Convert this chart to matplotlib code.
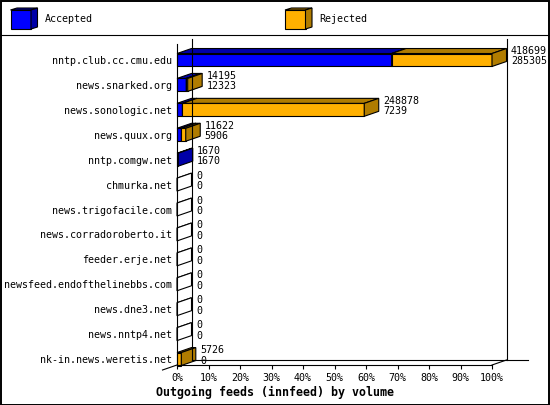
import numpy as np
import matplotlib.pyplot as plt
from matplotlib.patches import Polygon, Rectangle

hosts = ["nntp.club.cc.cmu.edu", "news.snarked.org", "news.sonologic.net",
         "news.quux.org", "nntp.comgw.net", "chmurka.net",
         "news.trigofacile.com", "news.corradoroberto.it", "feeder.erje.net",
         "newsfeed.endofthelinebbs.com", "news.dne3.net", "news.nntp4.net",
         "nk-in.news.weretis.net"]
# offered volume (top label) and accepted volume (bottom label)
offered = [418699, 14195, 248878, 11622, 1670, 0, 0, 0, 0, 0, 0, 0, 5726]
accepted = [285305, 12323, 7239, 5906, 1670, 0, 0, 0, 0, 0, 0, 0, 0]
ticks = list(range(0, 101, 10))

blue, dblue = "#0000ff", "#0000a8"
orange, dorange = "#ffb000", "#b07c00"
mono = "DejaVu Sans Mono"
fs = 7.2

W, H = 550, 405
fig = plt.figure(figsize=(W / 100, H / 100), dpi=100)

# plot area in pixels: x 0%..100% -> 177..492, rows from 44 to 365
x0px, x1px, ytop_px, ybot_px = 177, 492, 44, 365
ax = fig.add_axes([x0px / W, 1 - ybot_px / H, (x1px - x0px) / W, (ybot_px - ytop_px) / H])
row_px = 24.92
ymin = -(60 - ytop_px) / row_px
ymax = (ybot_px - 60) / row_px
ax.set_xlim(0, 100)
ax.set_ylim(ymax, ymin)

pxx = 100 / (x1px - x0px)      # data units per pixel in x
dx = 14.5 * pxx
dy = -5 / row_px
hh = 0.26
lw = 0.8

for s in ["top", "right"]:
    ax.spines[s].set_visible(False)
for s in ["left", "bottom"]:
    ax.spines[s].set_linewidth(lw)
ax.set_xticks(ticks)
ax.set_xticklabels([f"{t}%" for t in ticks], fontfamily=mono, fontsize=fs)
ax.tick_params(axis="x", length=3.2, width=lw, pad=2.5)
ax.set_yticks(range(len(hosts)))
ax.set_yticklabels(hosts, fontfamily=mono, fontsize=fs)
ax.tick_params(axis="y", length=0, pad=3.6)

# back wall and floor lines
line = dict(color="black", lw=lw, clip_on=False)
ax.plot([dx, dx], [ymin + dy, ymax + dy], **line)
ax.plot([100 + dx, 100 + dx], [ymin + dy, ymax + dy], **line)
ax.plot([dx, 100 + dx + 21 * pxx], [ymax + dy, ymax + dy], **line)
ax.plot([100, 100 + dx], [ymax, ymax + dy], **line)
ax.plot([-dx, 0], [ymax - dy, ymax], **line)

top = max(offered)


def box(x0, x1, yc, face, dark):
    yt, yb = yc - hh, yc + hh
    kw = dict(edgecolor="black", lw=lw, clip_on=False)
    ax.add_patch(Rectangle((x0, yt), x1 - x0, yb - yt, facecolor=face, **kw))
    ax.add_patch(Polygon([(x0, yt), (x1, yt), (x1 + dx, yt + dy), (x0 + dx, yt + dy)],
                         facecolor=dark, **kw))
    ax.add_patch(Polygon([(x1, yt), (x1 + dx, yt + dy), (x1 + dx, yb + dy), (x1, yb)],
                         facecolor=dark, **kw))


for i, (o, a) in enumerate(zip(offered, accepted)):
    pa = a / top * 100
    po = o / top * 100
    if o == 0:
        box(0, 0, i, "white", "white")
    else:
        if a > 0:
            box(0, pa, i, blue, dblue)
        if o > a:
            box(pa, po, i, orange, dorange)
    tx = po + dx + 4.5 * pxx
    ax.text(tx, i - 0.36, str(o), fontfamily=mono, fontsize=fs, va="center", ha="left")
    ax.text(tx, i + 0.06, str(a), fontfamily=mono, fontsize=fs, va="center", ha="left")


def fpoly(pts, **kw):
    fig.patches.append(Polygon([(x / W, 1 - y / H) for x, y in pts],
                               transform=fig.transFigure, figure=fig, **kw))


# legend band
for lx, face, dark, name in [(10.5, blue, dblue, "Accepted"), (285, orange, dorange, "Rejected")]:
    kw = dict(edgecolor="black", lw=lw)
    fpoly([(lx, 10), (lx + 20.5, 10), (lx + 20.5, 29), (lx, 29)], facecolor=face, **kw)
    fpoly([(lx, 10), (lx + 20.5, 10), (lx + 27, 8), (lx + 6.5, 8)], facecolor=dark, **kw)
    fpoly([(lx + 20.5, 10), (lx + 27, 8), (lx + 27, 27), (lx + 20.5, 29)], facecolor=dark, **kw)
    fig.text((lx + 34) / W, 1 - 19.5 / H, name, fontfamily=mono, fontsize=fs, va="center")

fig.add_artist(plt.Line2D([0, 1], [1 - 35 / H, 1 - 35 / H], color="black", lw=lw,
                          transform=fig.transFigure))
fig.patches.append(Rectangle((0.5 / W, 0.5 / H), 1 - 1.5 / W, 1 - 1.5 / H, fill=False,
                             edgecolor="black", lw=1.4, transform=fig.transFigure, figure=fig))

fig.text(0.5, 1 - 392 / H, "Outgoing feeds (innfeed) by volume", fontfamily=mono,
         fontsize=8.4, fontweight="bold", ha="center", va="center")

fig.savefig("out.png", dpi=100)
